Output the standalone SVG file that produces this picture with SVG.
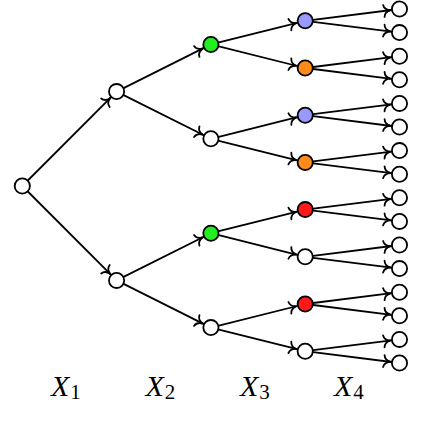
<svg xmlns="http://www.w3.org/2000/svg" width="436" height="430" viewBox="0 0 436 430">
<defs>
<marker id="arr" markerUnits="userSpaceOnUse" markerWidth="30" markerHeight="30" refX="0" refY="0" orient="auto" overflow="visible">
<path d="M -15.8,-6 C -15.3,-2.4 -12.5,-0.5 -8.9,0 C -12.5,0.5 -15.3,2.4 -15.8,6" fill="none" stroke="#000" stroke-width="1.8" stroke-linecap="round"/>
</marker>
<style>
.e{stroke:#000;stroke-width:1.8;fill:none;marker-end:url(#arr)}
.n circle{stroke:#000;stroke-width:1.8;fill:#fff}
.g{fill:#22ee22 !important}
.b{fill:#9999ff !important}
.o{fill:#ff8c1a !important}
.r{fill:#ff1a1a !important}
.lx{font-family:"Liberation Serif",serif;font-style:italic;font-size:30px;fill:#000}
.ls{font-family:"Liberation Serif",serif;font-style:normal;font-size:21px;fill:#000}
</style>
</defs>
<g id="edges">
<line class="e" x1="22.3" y1="186" x2="116.6" y2="91.6"/>
<line class="e" x1="22.3" y1="186" x2="116.6" y2="280.4"/>
<line class="e" x1="116.6" y1="91.6" x2="210.9" y2="44.4"/>
<line class="e" x1="116.6" y1="91.6" x2="210.9" y2="138.8"/>
<line class="e" x1="116.6" y1="280.4" x2="210.9" y2="233.2"/>
<line class="e" x1="116.6" y1="280.4" x2="210.9" y2="327.6"/>
<line class="e" x1="210.9" y1="44.4" x2="305.2" y2="20.8"/>
<line class="e" x1="210.9" y1="44.4" x2="305.2" y2="68"/>
<line class="e" x1="210.9" y1="138.8" x2="305.2" y2="115.2"/>
<line class="e" x1="210.9" y1="138.8" x2="305.2" y2="162.4"/>
<line class="e" x1="210.9" y1="233.2" x2="305.2" y2="209.6"/>
<line class="e" x1="210.9" y1="233.2" x2="305.2" y2="256.8"/>
<line class="e" x1="210.9" y1="327.6" x2="305.2" y2="304"/>
<line class="e" x1="210.9" y1="327.6" x2="305.2" y2="351.2"/>
<line class="e" x1="305.2" y1="20.8" x2="399.5" y2="9"/>
<line class="e" x1="305.2" y1="20.8" x2="399.5" y2="32.6"/>
<line class="e" x1="305.2" y1="68" x2="399.5" y2="56.2"/>
<line class="e" x1="305.2" y1="68" x2="399.5" y2="79.8"/>
<line class="e" x1="305.2" y1="115.2" x2="399.5" y2="103.4"/>
<line class="e" x1="305.2" y1="115.2" x2="399.5" y2="127"/>
<line class="e" x1="305.2" y1="162.4" x2="399.5" y2="150.6"/>
<line class="e" x1="305.2" y1="162.4" x2="399.5" y2="174.2"/>
<line class="e" x1="305.2" y1="209.6" x2="399.5" y2="197.8"/>
<line class="e" x1="305.2" y1="209.6" x2="399.5" y2="221.4"/>
<line class="e" x1="305.2" y1="256.8" x2="399.5" y2="245"/>
<line class="e" x1="305.2" y1="256.8" x2="399.5" y2="268.6"/>
<line class="e" x1="305.2" y1="304" x2="399.5" y2="292.2"/>
<line class="e" x1="305.2" y1="304" x2="399.5" y2="315.8"/>
<line class="e" x1="305.2" y1="351.2" x2="399.5" y2="339.4"/>
<line class="e" x1="305.2" y1="351.2" x2="399.5" y2="363"/>
</g>
<g class="n">
<g id="n0"><circle cx="22.3" cy="186" r="7.6"/></g>
<g id="n1a"><circle cx="116.6" cy="91.6" r="7.6"/></g>
<g id="n1b"><circle cx="116.6" cy="280.4" r="7.6"/></g>
<g id="n2a"><circle class="g" cx="210.9" cy="44.4" r="7.6"/></g>
<g id="n2b"><circle cx="210.9" cy="138.8" r="7.6"/></g>
<g id="n2c"><circle class="g" cx="210.9" cy="233.2" r="7.6"/></g>
<g id="n2d"><circle cx="210.9" cy="327.6" r="7.6"/></g>
<g id="n3a"><circle class="b" cx="305.2" cy="20.8" r="7.6"/></g>
<g id="n3b"><circle class="o" cx="305.2" cy="68" r="7.6"/></g>
<g id="n3c"><circle class="b" cx="305.2" cy="115.2" r="7.6"/></g>
<g id="n3d"><circle class="o" cx="305.2" cy="162.4" r="7.6"/></g>
<g id="n3e"><circle class="r" cx="305.2" cy="209.6" r="7.6"/></g>
<g id="n3f"><circle cx="305.2" cy="256.8" r="7.6"/></g>
<g id="n3g"><circle class="r" cx="305.2" cy="304" r="7.6"/></g>
<g id="n3h"><circle cx="305.2" cy="351.2" r="7.6"/></g>
<g id="n4a"><circle cx="399.5" cy="9" r="7.6"/></g>
<g id="n4b"><circle cx="399.5" cy="32.6" r="7.6"/></g>
<g id="n4c"><circle cx="399.5" cy="56.2" r="7.6"/></g>
<g id="n4d"><circle cx="399.5" cy="79.8" r="7.6"/></g>
<g id="n4e"><circle cx="399.5" cy="103.4" r="7.6"/></g>
<g id="n4f"><circle cx="399.5" cy="127" r="7.6"/></g>
<g id="n4g"><circle cx="399.5" cy="150.6" r="7.6"/></g>
<g id="n4h"><circle cx="399.5" cy="174.2" r="7.6"/></g>
<g id="n4i"><circle cx="399.5" cy="197.8" r="7.6"/></g>
<g id="n4j"><circle cx="399.5" cy="221.4" r="7.6"/></g>
<g id="n4k"><circle cx="399.5" cy="245" r="7.6"/></g>
<g id="n4l"><circle cx="399.5" cy="268.6" r="7.6"/></g>
<g id="n4m"><circle cx="399.5" cy="292.2" r="7.6"/></g>
<g id="n4n"><circle cx="399.5" cy="315.8" r="7.6"/></g>
<g id="n4o"><circle cx="399.5" cy="339.4" r="7.6"/></g>
<g id="n4p"><circle cx="399.5" cy="363" r="7.6"/></g>
</g>
<g id="labels">
<text class="lx" x="51" y="396">X<tspan class="ls" dy="3" dx="1">1</tspan></text>
<text class="lx" x="145.5" y="396">X<tspan class="ls" dy="3" dx="1">2</tspan></text>
<text class="lx" x="240" y="396">X<tspan class="ls" dy="3" dx="1">3</tspan></text>
<text class="lx" x="334" y="396">X<tspan class="ls" dy="3" dx="1">4</tspan></text>
</g>
</svg>
